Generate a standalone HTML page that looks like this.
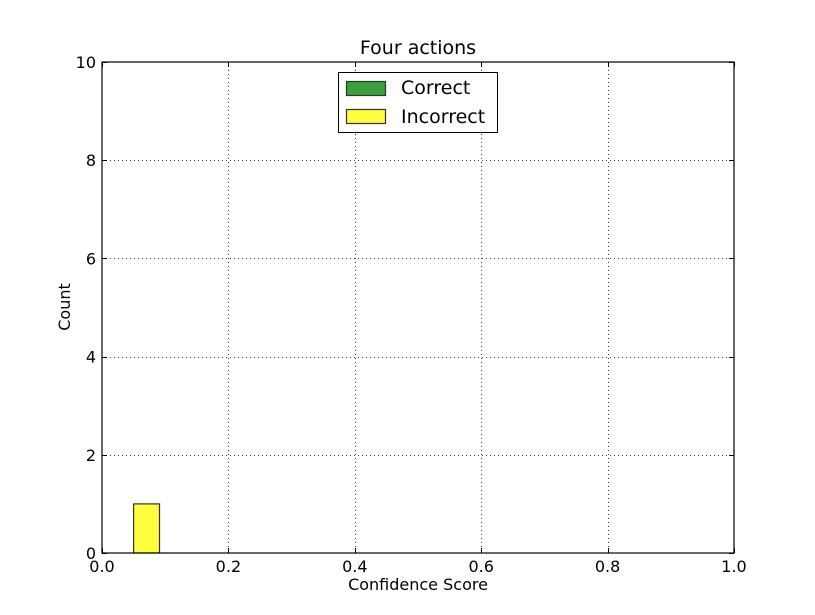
<!DOCTYPE html>
<html><head><meta charset="utf-8"><style>
html,body{margin:0;padding:0;background:#fff;}
svg{display:block;font-family:"DejaVu Sans","Liberation Sans",sans-serif;}
</style></head><body>
<svg id="chart" width="815" height="615" viewBox="0 0 815 615">
<rect x="0" y="0" width="815" height="615" fill="#ffffff"/>
<g id="grid"></g>
<g id="bars"></g>
<rect x="102" y="62" width="632" height="491" fill="none" stroke="#000" stroke-width="1.2"/>
<g id="ticks"></g>
<text x="418" y="54" font-size="19" text-anchor="middle">Four actions</text>
<text x="418" y="590" font-size="16" text-anchor="middle">Confidence Score</text>
<text x="70" y="307" font-size="16" text-anchor="middle" transform="rotate(-90 70 307)">Count</text>
<g>
<rect x="338.5" y="72.5" width="159" height="60" fill="#fff" stroke="#000" stroke-width="1"/>
<g>
<rect x="346.5" y="81.5" width="39" height="14" fill="#3f9f3f" stroke="#1f3f1f" stroke-width="1.2"/>
<text x="401" y="94" font-size="19">Correct</text>
</g>
<g>
<rect x="346.5" y="109.5" width="39" height="14" fill="#ffff40" stroke="#333" stroke-width="1.2"/>
<text x="401" y="123" font-size="19">Incorrect</text>
</g>
</g>
</svg>
<script>
const binStarts = [0.05];
const binWidth = 0.041;
const correctCounts = [0];
const incorrectCounts = [1];
const xTicks = [0.0, 0.2, 0.4, 0.6, 0.8, 1.0];
const yTicks = [0, 2, 4, 6, 8, 10];

const NS = "http://www.w3.org/2000/svg";
const X0 = 102, X1 = 734, Y0 = 553, Y1 = 62;
function xs(v){ return X0 + (v - 0) / (1 - 0) * (X1 - X0); }
function ys(v){ return Y0 - (v - 0) / (10 - 0) * (Y0 - Y1); }
function mk(tag, attrs){ const e = document.createElementNS(NS, tag); for (const k in attrs) e.setAttribute(k, attrs[k]); return e; }

const grid = document.getElementById('grid');
const ticks = document.getElementById('ticks');
const bars = document.getElementById('bars');

xTicks.forEach(function(t){
  const x = Math.round(xs(t)) + 0.5;
  if (t > 0 && t < 1) {
    const g = mk('line', {x1:x, x2:x, y1:Y1, y2:Y0, stroke:'#000', 'stroke-width':0.8, 'stroke-dasharray':'1,3'});
    
    
    grid.appendChild(g);
  }
  const tk1 = mk('line', {x1:x, x2:x, y1:Y0, y2:Y0-5, stroke:'#000'});
  
  
  ticks.appendChild(tk1);
  const tk2 = mk('line', {x1:x, x2:x, y1:Y1, y2:Y1+5, stroke:'#000'});
  
  
  ticks.appendChild(tk2);
  const lb = mk('text', {x:xs(t), y:572, 'font-size':16, 'text-anchor':'middle'});
  lb.textContent = t.toFixed(1);
  
  
  ticks.appendChild(lb);
});

yTicks.forEach(function(t){
  const y = Math.round(ys(t)) + 0.5;
  if (t > 0 && t < 10) {
    const g = mk('line', {x1:X0, x2:X1, y1:y, y2:y, stroke:'#000', 'stroke-width':0.8, 'stroke-dasharray':'1,3'});
    
    
    grid.appendChild(g);
  }
  const tk1 = mk('line', {x1:X0, x2:X0+5, y1:y, y2:y, stroke:'#000'});
  
  
  ticks.appendChild(tk1);
  const tk2 = mk('line', {x1:X1, x2:X1-5, y1:y, y2:y, stroke:'#000'});
  
  
  ticks.appendChild(tk2);
  const lb = mk('text', {x:96, y:ys(t)+6, 'font-size':16, 'text-anchor':'end'});
  lb.textContent = String(t);
  
  
  ticks.appendChild(lb);
});

function drawSeries(counts, fill, stroke, name){
  counts.forEach(function(c, i){
    if (c <= 0) return;
    const x = xs(binStarts[i]), w = xs(binStarts[i] + binWidth) - x;
    const r = mk('rect', {x:x, y:ys(c), width:w, height:ys(0)-ys(c), fill:fill, stroke:stroke, 'stroke-width':1.2});
    
    
    bars.appendChild(r);
  });
}
drawSeries(correctCounts, '#3f9f3f', '#1f3f1f', 'bar-correct');
drawSeries(incorrectCounts, '#ffff40', '#333', 'bar-incorrect');
</script>
</body></html>
